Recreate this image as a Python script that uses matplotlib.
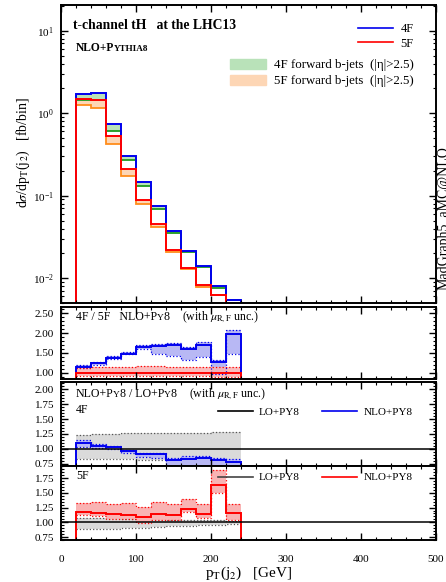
import matplotlib
matplotlib.use("Agg")
import matplotlib.pyplot as plt
import numpy as np
from matplotlib.lines import Line2D
from matplotlib.patches import Patch
from matplotlib.transforms import ScaledTranslation
from matplotlib.ticker import MultipleLocator, FormatStrFormatter, LogLocator

plt.rcParams['font.family'] = ['Liberation Serif', 'DejaVu Serif']
plt.rcParams['mathtext.fontset'] = 'stix'

# pT(j2) bins [GeV]
bin_edges = [20, 40, 60, 80, 100, 120, 140, 160, 180, 200, 220, 240]

# NLO+PY8 distributions [fb/bin]
xs_4f = [1.72, 1.78, 0.735, 0.306, 0.146, 0.0753, 0.0375, 0.0212, 0.0140, 0.0081, 0.0055]
xs_4f_nofwd = [1.45, 1.46, 0.61, 0.270, 0.131, 0.0694, 0.0350, 0.0207, 0.0136, 0.0076, 0.0054]
xs_5f = [1.48, 1.45, 0.53, 0.209, 0.0885, 0.0452, 0.0222, 0.0134, 0.0082, 0.0063, 0.0028]
xs_5f_nofwd = [1.26, 1.16, 0.42, 0.174, 0.080, 0.0420, 0.0207, 0.0128, 0.0079, 0.0062, 0.0027]

# 4F / 5F ratio with scale uncertainties
r45 = [1.15, 1.24, 1.38, 1.48, 1.66, 1.67, 1.70, 1.59, 1.70, 1.28, 1.98]
r45_up = [1.18, 1.27, 1.41, 1.51, 1.70, 1.72, 1.75, 1.66, 1.77, 1.33, 2.09]
r45_dn = [1.12, 1.20, 1.34, 1.46, 1.59, 1.46, 1.42, 1.31, 1.40, 0.96, 1.48]
r55 = [1.0] * 11
r55_up = [1.12, 1.13, 1.14, 1.15, 1.16, 1.16, 1.15, 1.13, 1.13, 1.14, 1.14]
r55_dn = [0.92, 0.91, 0.91, 0.91, 0.91, 0.91, 0.91, 0.92, 0.92, 0.90, 0.90]

# NLO / LO, 4F
nlo_lo_4f = [1.106, 1.053, 1.03, 0.963, 0.91, 0.91, 0.814, 0.83, 0.85, 0.814, 0.79]
nlo_lo_4f_up = [1.15, 1.09, 1.053, 0.99, 0.936, 0.936, 0.846, 0.878, 0.878, 0.85, 0.835]
nlo_lo_4f_dn = [1.04, 1.01, 0.995, 0.936, 0.867, 0.846, 0.70, 0.70, 0.70, 0.70, 0.70]
lo_4f_up = [1.24, 1.25, 1.255, 1.26, 1.26, 1.265, 1.265, 1.27, 1.27, 1.275, 1.28]
lo_4f_dn = [0.83, 0.83, 0.83, 0.83, 0.82, 0.82, 0.70, 0.69, 0.68, 0.67, 0.66]

# NLO / LO, 5F
nlo_lo_5f = [1.18, 1.164, 1.136, 1.13, 1.09, 1.136, 1.12, 1.226, 1.147, 1.64, 1.164]
nlo_lo_5f_up = [1.32, 1.35, 1.31, 1.32, 1.265, 1.34, 1.305, 1.395, 1.305, 1.887, 1.31]
nlo_lo_5f_dn = [1.12, 1.10, 1.06, 1.05, 0.98, 1.035, 1.04, 1.17, 1.07, 1.50, 1.035]
lo_5f_up = [1.075, 1.07, 1.065, 1.06, 1.055, 1.05, 1.045, 1.04, 1.035, 1.035, 1.03]
lo_5f_dn = [0.88, 0.885, 0.89, 0.90, 0.91, 0.92, 0.93, 0.94, 0.95, 0.96, 0.97]

BLUE = '#0000ee'
RED = '#ff0000'
BLUE_BAND = '#b8b8f4'
RED_BAND = '#f9b3b3'

fig = plt.figure(figsize=(4.46, 5.82), dpi=100)
L, W = 0.1368, 0.8408
ax0 = fig.add_axes([L, 0.4794, W, 0.5120])
ax1 = fig.add_axes([L, 0.3483, W, 0.1247])
ax2 = fig.add_axes([L, 0.1998, W, 0.1430])
ax3 = fig.add_axes([L, 0.0722, W, 0.1276])
renderer = fig.canvas.get_renderer()


def smallcaps(ax, x, y, parts, **kw):
    # pieces of different size sharing one baseline (small caps)
    dx = 0.0
    for s, fs, gap in parts:
        dx += gap
        tr = ax.transAxes + ScaledTranslation(dx / 72, 0, fig.dpi_scale_trans)
        t = ax.text(x, y, s, fontsize=fs, va='baseline', ha='left', transform=tr, **kw)
        dx += t.get_window_extent(renderer).width * 72 / fig.dpi


# ---- main panel
ax0.stairs(xs_4f, bin_edges, baseline=xs_4f_nofwd, fill=True, color='#b9e2b9', lw=0)
ax0.stairs(xs_5f, bin_edges, baseline=xs_5f_nofwd, fill=True, color='#fdd6b5', lw=0)
ax0.stairs(xs_4f_nofwd, bin_edges, baseline=None, color='#1f9a1f', lw=1.3)
ax0.stairs(xs_5f_nofwd, bin_edges, baseline=None, color='#ff8c1a', lw=1.3)
ax0.stairs(xs_4f, bin_edges, baseline=1e-4, color=BLUE, lw=1.4)
ax0.stairs(xs_5f, bin_edges, baseline=1e-4, color=RED, lw=1.4)
ax0.set_yscale('log')
ax0.set_ylim(0.005, 20.5)
ax0.yaxis.set_minor_locator(LogLocator(subs=np.arange(2, 10)))
ax0.set_ylabel(r'd$\sigma$/dp$_{\rm T}$(j$_2$)   [fb/bin]', fontsize=10)
ax0.yaxis.set_label_coords(-0.078, 0.505)

ax0.text(0.032, 0.93, 't-channel tH   at the LHC13', transform=ax0.transAxes,
         fontsize=9.8, fontweight='bold', va='center')
smallcaps(ax0, 0.04, 0.845, [('NLO+P', 8.3, 0), ('YTHIA8', 6.6, -0.6)], fontweight='bold')

leg1 = ax0.legend(handles=[Line2D([], [], color=BLUE, lw=1.2, label='4F'),
                           Line2D([], [], color=RED, lw=1.2, label='5F')],
                  loc='upper right', bbox_to_anchor=(0.94, 0.939), frameon=False,
                  fontsize=9, handlelength=2.8, handletextpad=0.6,
                  borderpad=0, borderaxespad=0, labelspacing=0.2)
ax0.add_artist(leg1)
ax0.legend(handles=[Patch(color='#b9e2b9', label='4F forward b-jets  (|η|>2.5)'),
                    Patch(color='#fdd6b5', label='5F forward b-jets  (|η|>2.5)')],
           loc='upper right', bbox_to_anchor=(0.94, 0.818), frameon=False,
           fontsize=9.25, handlelength=2.8, handleheight=0.75, handletextpad=0.6,
           borderpad=0, borderaxespad=0, labelspacing=0.3)

fig.text(438 / 446, 1 - 290 / 582, 'MadGraph5_aMC@NLO', rotation=90,
         ha='left', va='bottom', fontsize=10)

# ---- 4F / 5F ratio
ax1.stairs(r45_up, bin_edges, baseline=r45_dn, fill=True, color=BLUE_BAND, lw=0)
ax1.stairs(r55_up, bin_edges, baseline=r55_dn, fill=True, color=RED_BAND, lw=0, alpha=0.85)
for up, dn, c in [(r45_up, r45_dn, BLUE), (r55_up, r55_dn, RED)]:
    ax1.stairs(up, bin_edges, baseline=None, color=c, lw=0.9, ls=':')
    ax1.stairs(dn, bin_edges, baseline=None, color=c, lw=0.9, ls=':')
ax1.stairs(r45, bin_edges, color=BLUE, lw=1.4)
ax1.stairs(r55, bin_edges, color=RED, lw=1.4)
ax1.set_ylim(0.83, 2.67)
ax1.yaxis.set_major_locator(MultipleLocator(0.5))
ax1.yaxis.set_minor_locator(MultipleLocator(0.1))
smallcaps(ax1, 0.04, 0.815, [('4F / 5F   NLO+P', 8.6, 0), ('Y', 6.8, -0.5), ('8', 8.6, 0),
                             (r'(with $\mu_{\rm R,F}$ unc.)', 8.6, 9)])

# ---- NLO / LO panels
for ax, nlo, up, dn, lup, ldn, c, tag, lo_col in [
        (ax2, nlo_lo_4f, nlo_lo_4f_up, nlo_lo_4f_dn, lo_4f_up, lo_4f_dn, BLUE, '4F', 'black'),
        (ax3, nlo_lo_5f, nlo_lo_5f_up, nlo_lo_5f_dn, lo_5f_up, lo_5f_dn, RED, '5F', '#444444')]:
    ax.stairs(lup, bin_edges, baseline=ldn, fill=True, color='#dadada', lw=0)
    ax.stairs(lup, bin_edges, baseline=None, color='#555555', lw=0.9, ls=':')
    ax.stairs(ldn, bin_edges, baseline=None, color='#555555', lw=0.9, ls=':')
    ax.stairs(up, bin_edges, baseline=dn, fill=True,
              color=BLUE_BAND if c == BLUE else RED_BAND, lw=0)
    ax.stairs(up, bin_edges, baseline=None, color=c, lw=0.9, ls=':')
    ax.stairs(dn, bin_edges, baseline=None, color=c, lw=0.9, ls=':')
    ax.axhline(1.0, color='black', lw=1.1)
    ax.stairs(nlo, bin_edges, color=c, lw=1.4)
    ax.yaxis.set_major_locator(MultipleLocator(0.25))
    ax.yaxis.set_minor_locator(MultipleLocator(0.05))
    ax.legend(handles=[Line2D([], [], color=lo_col, lw=1.2, label='LO+PY8'),
                       Line2D([], [], color=c, lw=1.2, label='NLO+PY8')],
              loc='center right', bbox_to_anchor=(0.937, 0.65 if tag == '4F' else 0.84),
              ncol=2, frameon=False, fontsize=8, handlelength=3.1, handletextpad=0.6,
              columnspacing=2.0, borderpad=0, borderaxespad=0)

ax2.set_ylim(0.72, 2.11)
ax3.set_ylim(0.70, 1.96)
smallcaps(ax2, 0.04, 0.825, [('NLO+P', 8.6, 0), ('Y', 6.8, -0.5), ('8 / LO+P', 8.6, 0),
                             ('Y', 6.8, -0.5), ('8', 8.6, 0),
                             (r'(with $\mu_{\rm R,F}$ unc.)', 8.6, 9)])
ax2.text(0.04, 0.635, '4F', transform=ax2.transAxes, fontsize=8.6, va='baseline')
ax3.text(0.04, 0.82, '5F', transform=ax3.transAxes, fontsize=8.6, va='baseline')

for ax in (ax0, ax1, ax2, ax3):
    ax.set_xlim(0, 500)
    ax.xaxis.set_major_locator(MultipleLocator(100))
    ax.xaxis.set_minor_locator(MultipleLocator(20))
    ax.tick_params(which='both', direction='in', top=True, right=True, labelsize=8)
    ax.tick_params(axis='y', pad=5)
    ax.tick_params(axis='x', pad=11)
    ax.tick_params(which='major', length=5, width=1.0)
    ax.tick_params(which='minor', length=2.5, width=0.8)
    for sp in ax.spines.values():
        sp.set_linewidth(1.4)
    if ax is not ax3:
        ax.tick_params(labelbottom=False)
for ax in (ax1, ax2, ax3):
    ax.yaxis.set_major_formatter(FormatStrFormatter('%.2f'))

ax3.set_xlabel(r'p$_{\rm T}$(j$_2$)   [GeV]', fontsize=11)
ax3.xaxis.set_label_coords(0.5, -0.33)

fig.savefig('out.png', dpi=100)
